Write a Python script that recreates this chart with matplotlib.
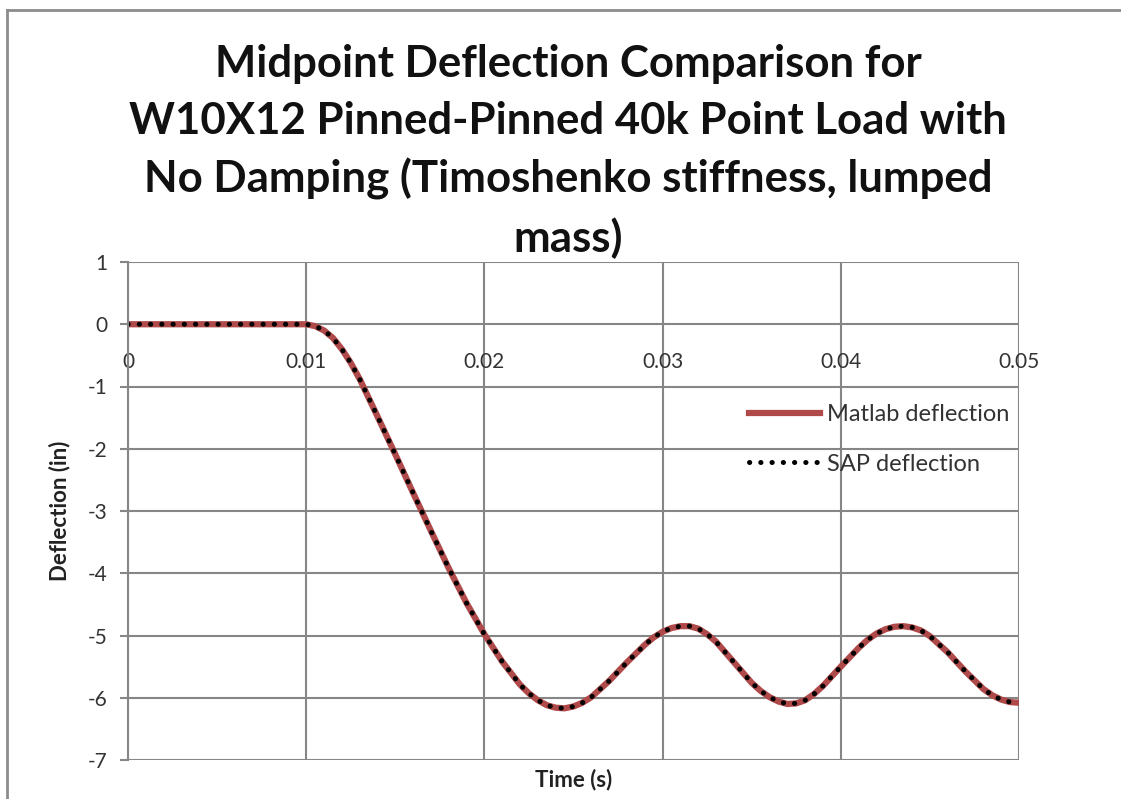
import matplotlib
matplotlib.use("Agg")
import matplotlib.pyplot as plt
from matplotlib.lines import Line2D

# time in seconds, midpoint deflection in inches
time_s = [0.0, 0.005, 0.010, 0.0105, 0.011, 0.0115, 0.012, 0.0125, 0.013, 0.014, 0.015,
          0.016, 0.017, 0.018, 0.019, 0.020, 0.021, 0.022, 0.0225, 0.023, 0.0235, 0.024,
          0.0245, 0.025, 0.0255, 0.026, 0.027, 0.028, 0.029, 0.0295, 0.030, 0.0305,
          0.031, 0.0315, 0.032, 0.0325, 0.033, 0.034, 0.035, 0.0355, 0.036, 0.0365,
          0.037, 0.0375, 0.038, 0.0385, 0.039, 0.040, 0.041, 0.0415, 0.042, 0.0425,
          0.043, 0.0435, 0.044, 0.0445, 0.045, 0.046, 0.047, 0.048, 0.0485, 0.049,
          0.0495, 0.050]
matlab_defl = [0.0, 0.0, 0.0, -0.03, -0.1, -0.22, -0.40, -0.62, -0.88, -1.48, -2.09,
               -2.71, -3.32, -3.92, -4.48, -4.98, -5.42, -5.79, -5.93, -6.04, -6.12, -6.16,
               -6.17, -6.14, -6.08, -5.99, -5.73, -5.43, -5.15, -5.03, -4.94, -4.88,
               -4.85, -4.85, -4.89, -4.98, -5.10, -5.43, -5.76, -5.89, -5.99, -6.06,
               -6.10, -6.09, -6.04, -5.94, -5.81, -5.50, -5.20, -5.07, -4.97, -4.90,
               -4.86, -4.85, -4.87, -4.92, -5.01, -5.27, -5.58, -5.86, -5.96, -6.03,
               -6.07, -6.08]
sap_defl = [0.0, 0.0, 0.0, -0.03, -0.1, -0.22, -0.40, -0.62, -0.88, -1.48, -2.09,
            -2.71, -3.32, -3.92, -4.48, -4.98, -5.42, -5.79, -5.93, -6.04, -6.12, -6.16,
            -6.17, -6.14, -6.08, -5.99, -5.73, -5.43, -5.15, -5.03, -4.94, -4.88,
            -4.85, -4.85, -4.89, -4.98, -5.10, -5.43, -5.76, -5.89, -5.99, -6.06,
            -6.10, -6.09, -6.04, -5.94, -5.81, -5.50, -5.20, -5.07, -4.97, -4.90,
            -4.86, -4.85, -4.87, -4.92, -5.01, -5.27, -5.58, -5.86, -5.96, -6.03,
            -6.07, -6.08]
x_ticks = [0, 0.01, 0.02, 0.03, 0.04, 0.05]
x_labels = ["0", "0.01", "0.02", "0.03", "0.04", "0.05"]
y_ticks = [1, 0, -1, -2, -3, -4, -5, -6, -7]

plt.rcParams['font.family'] = ['Lato', 'DejaVu Sans']

fig = plt.figure(figsize=(11.21, 7.99), dpi=100)
ax = fig.add_axes([128/1121, 39/799, (1019-128)/1121, (760-262)/799])

ax.plot(time_s, matlab_defl, color="#b04a4a", lw=4.5, solid_joinstyle="round",
        label="Matlab deflection")
ax.plot(time_s, sap_defl, color="black", lw=3.6, linestyle=(0, (0.05, 2.2)),
        dash_capstyle="round", label="SAP deflection")

ax.set_xlim(0, 0.05)
ax.set_ylim(-7, 1)
ax.set_xticks(x_ticks)
ax.set_xticklabels(x_labels)
ax.set_yticks(y_ticks)
ax.set_yticklabels([str(v) for v in y_ticks])
ax.grid(True, color="#868686", lw=1.5)
ax.set_axisbelow(True)

for side in ["top", "right", "bottom"]:
    ax.spines[side].set_visible(False)
ax.spines["left"].set_color("#868686")
ax.spines["left"].set_linewidth(1.5)

# x labels sit under the zero line, like excel does
ax.tick_params(axis="x", length=0, pad=20, labelsize=15, labelcolor="#333333")
ax.tick_params(axis="y", length=6, width=1.5, color="#868686", pad=9,
               labelsize=15, labelcolor="#333333")
for lbl in ax.get_xticklabels():
    lbl.set_y(7/8)
    lbl.set_va("top")

ax.set_xlabel("Time (s)", fontsize=16, fontweight="bold", labelpad=6, color="#222222")
ax.set_ylabel("Deflection (in)", fontsize=16, fontweight="bold", labelpad=12, color="#222222")

fig.text(0.507, 1-44/799,
         "Midpoint Deflection Comparison for\nW10X12 Pinned-Pinned 40k Point Load with\n"
         "No Damping (Timoshenko stiffness, lumped\nmass)",
         ha="center", va="top", fontsize=31.5, fontweight="bold", linespacing=1.5,
         color="#111111")

leg = ax.legend(loc="upper left", bbox_to_anchor=(728/1121, 1-383/799),
                bbox_transform=fig.transFigure, frameon=False, fontsize=17,
                handlelength=3.0, handletextpad=0.3, labelspacing=1.2)
for t in leg.get_texts():
    t.set_color("#333333")

# outer chart frame (top and left edges visible)
fig.add_artist(Line2D([7/1121, 1], [1-10/799, 1-10/799], color="#8c8c8c", lw=2,
                      transform=fig.transFigure))
fig.add_artist(Line2D([7/1121, 7/1121], [0, 1-10/799], color="#8c8c8c", lw=2,
                      transform=fig.transFigure))

fig.savefig("out.png", dpi=100)
